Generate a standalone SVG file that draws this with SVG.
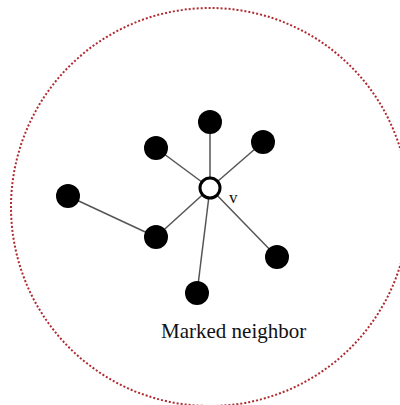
<svg xmlns="http://www.w3.org/2000/svg" width="400" height="405" viewBox="0 0 400 405">
  <style>
    .edge { stroke: #555; stroke-width: 1.5; fill: none; }
    .dot { fill: #000; }
    .label { font-family: "Liberation Serif", "Times New Roman", serif; fill: #111; }
  </style>
  <rect width="400" height="405" fill="#fff"/>
  <!-- neighborhood boundary -->
  <circle cx="210" cy="207" r="199" fill="none" stroke="#b02a30" stroke-width="2" stroke-dasharray="2 2"/>
  <g id="connectors">
    <line class="edge" x1="210" y1="188" x2="210" y2="122"/>
    <line class="edge" x1="210" y1="188" x2="263" y2="142"/>
    <line class="edge" x1="210" y1="188" x2="156" y2="148"/>
    <line class="edge" x1="210" y1="188" x2="156" y2="237"/>
    <line class="edge" x1="210" y1="188" x2="197" y2="293"/>
    <line class="edge" x1="210" y1="188" x2="277" y2="257"/>
    <line class="edge" x1="68" y1="196" x2="156" y2="237"/>
  </g>
  <g id="n-top"><circle class="dot" cx="210" cy="122" r="12"/></g>
  <g id="n-upper-right"><circle class="dot" cx="263" cy="142" r="12"/></g>
  <g id="n-upper-left"><circle class="dot" cx="156" cy="148" r="12"/></g>
  <g id="n-far-left"><circle class="dot" cx="68" cy="196" r="12"/></g>
  <g id="n-lower-left"><circle class="dot" cx="156" cy="237" r="12"/></g>
  <g id="n-right"><circle class="dot" cx="277" cy="257" r="12"/></g>
  <g id="n-bottom"><circle class="dot" cx="197" cy="293" r="12"/></g>
  <g id="v">
    <circle cx="210" cy="188" r="10" fill="#fff" stroke="#000" stroke-width="3"/>
    <text class="label" x="229" y="203" font-size="17">v</text>
  </g>
  <text class="label" x="161" y="338" font-size="21">Marked neighbor</text>
</svg>
